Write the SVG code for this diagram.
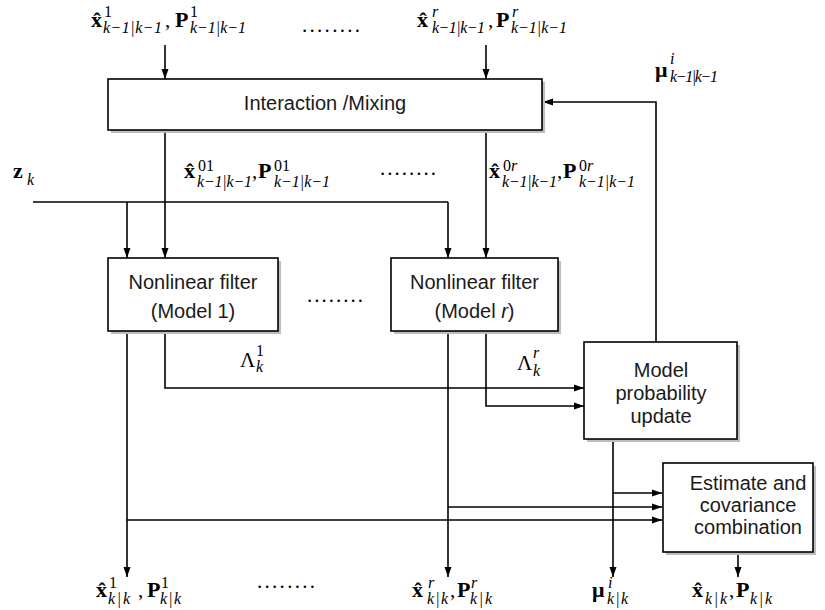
<svg xmlns="http://www.w3.org/2000/svg" width="825" height="610" viewBox="0 0 825 610">
<defs>
<marker id="ah" markerUnits="userSpaceOnUse" markerWidth="10" markerHeight="8" refX="10" refY="4" orient="auto"><path d="M0,0.5 L10,4 L0,7.5 z" fill="#000"/></marker>
<style>
.box{fill:#fff;stroke:#000;stroke-width:1.6}
.sh{fill:#bdbdbd}
.lbl{font-family:"Liberation Sans",Arial,sans-serif;font-size:20px;fill:#1a1a1a;text-anchor:middle}
.m{font-family:"Liberation Serif","Times New Roman",serif;fill:#000}
.b{font-weight:bold;font-size:22px}
.r{font-size:21px}
.s{font-size:16px}
.i{font-style:italic;font-size:16px}
.c{fill:none;stroke:#000;stroke-width:1.6}
.a{marker-end:url(#ah)}
</style>
</defs>
<rect width="825" height="610" fill="#fff"/>

<g id="connectors">
<path class="c a" d="M165,45 V79"/>
<path class="c a" d="M486,45 V79"/>
<path class="c a" d="M656,342 V102 H543"/>
<path class="c a" d="M165,130 V258"/>
<path class="c a" d="M486,130 V258"/>
<path class="c" d="M33,202 H448"/>
<path class="c a" d="M127,202 V258"/>
<path class="c a" d="M448,202 V258"/>
<path class="c a" d="M127,331 V577"/>
<path class="c a" d="M127,520 H662"/>
<path class="c a" d="M165,331 V388 H584"/>
<path class="c a" d="M448,331 V577"/>
<path class="c a" d="M448,507 H662"/>
<path class="c a" d="M486,331 V406 H584"/>
<path class="c a" d="M613,442 V577"/>
<path class="c a" d="M613,493 H662"/>
<path class="c a" d="M738,552 V577"/>
</g>

<g id="mixing">
<rect class="sh" x="111" y="82" width="434" height="51"/>
<rect class="box" x="108" y="79" width="434" height="51"/>
<text class="lbl" x="325" y="110">Interaction /Mixing</text>
</g>

<g id="filter1">
<rect class="sh" x="111" y="261" width="170" height="73"/>
<rect class="box" x="108" y="258" width="170" height="73"/>
<text class="lbl" x="193" y="289">Nonlinear filter</text>
<text class="lbl" x="193" y="318">(Model 1)</text>
</g>

<g id="filterr">
<rect class="sh" x="394" y="261" width="167" height="73"/>
<rect class="box" x="391" y="258" width="167" height="73"/>
<text class="lbl" x="474.5" y="289">Nonlinear filter</text>
<text class="lbl" x="474.5" y="318">(Model <tspan font-style="italic">r</tspan>)</text>
</g>

<g id="modelprob">
<rect class="sh" x="587" y="345" width="153" height="97"/>
<rect class="box" x="584" y="342" width="153" height="97"/>
<text class="lbl" x="661" y="377">Model</text>
<text class="lbl" x="661" y="400">probability</text>
<text class="lbl" x="661" y="423">update</text>
</g>

<g id="estimate">
<rect class="sh" x="666" y="466" width="150" height="89"/>
<rect class="box" x="663" y="463" width="150" height="89"/>
<text class="lbl" x="748" y="490">Estimate and</text>
<text class="lbl" x="748" y="512">covariance</text>
<text class="lbl" x="748" y="534">combination</text>
</g>

<g id="labels">
<!-- top left -->
<text class="m"><tspan class="b" x="91" y="27">x̂</tspan><tspan class="s" x="104" y="17">1</tspan><tspan class="i" x="103" y="33" textLength="59">k−1|k−1</tspan><tspan class="r" x="165" y="27">,</tspan><tspan class="b" x="175" y="27">P</tspan><tspan class="s" x="190" y="17">1</tspan><tspan class="i" x="190" y="33" textLength="56">k−1|k−1</tspan></text>
<text class="m r" x="302" y="32" textLength="58">........</text>
<!-- top right -->
<text class="m"><tspan class="b" x="417" y="27">x̂</tspan><tspan class="i" x="432" y="17">r</tspan><tspan class="i" x="432" y="33" textLength="53">k−1|k−1</tspan><tspan class="r" x="488" y="27">,</tspan><tspan class="b" x="496" y="27">P</tspan><tspan class="i" x="512" y="17">r</tspan><tspan class="i" x="511" y="33" textLength="56">k−1|k−1</tspan></text>
<!-- mu top -->
<text class="m"><tspan class="b" x="655" y="77">μ</tspan><tspan class="i" x="670" y="64">i</tspan><tspan class="i" x="670" y="82" textLength="48">k−1|k−1</tspan></text>
<!-- z_k -->
<text class="m"><tspan class="b" x="13" y="178">z</tspan><tspan class="i" x="27" y="185">k</tspan></text>
<!-- middle left -->
<text class="m"><tspan class="b" x="184" y="178">x̂</tspan><tspan class="s" x="198" y="171">01</tspan><tspan class="i" x="197" y="187" textLength="55">k−1|k−1</tspan><tspan class="r" x="252" y="178">,</tspan><tspan class="b" x="258" y="178">P</tspan><tspan class="s" x="274" y="171">01</tspan><tspan class="i" x="274" y="187" textLength="56">k−1|k−1</tspan></text>
<text class="m r" x="380" y="175" textLength="56">........</text>
<!-- middle right -->
<text class="m"><tspan class="b" x="489" y="178">x̂</tspan><tspan class="s" x="503" y="171">0<tspan font-style="italic">r</tspan></tspan><tspan class="i" x="502" y="187" textLength="55">k−1|k−1</tspan><tspan class="r" x="557" y="178">,</tspan><tspan class="b" x="563" y="178">P</tspan><tspan class="s" x="579" y="171">0<tspan font-style="italic">r</tspan></tspan><tspan class="i" x="579" y="187" textLength="56">k−1|k−1</tspan></text>
<!-- filter dots -->
<text class="m r" x="307" y="302" textLength="56">........</text>
<!-- lambdas -->
<text class="m"><tspan class="r" x="240" y="367">Λ</tspan><tspan class="s" x="256" y="356">1</tspan><tspan class="i" x="256" y="372">k</tspan></text>
<text class="m"><tspan class="r" x="517" y="370">Λ</tspan><tspan class="i" x="533" y="358">r</tspan><tspan class="i" x="533" y="376">k</tspan></text>
<!-- bottom -->
<text class="m"><tspan class="b" x="96" y="597">x̂</tspan><tspan class="s" x="109" y="588">1</tspan><tspan class="i" x="108" y="604" textLength="22">k|k</tspan><tspan class="r" x="138" y="597">,</tspan><tspan class="b" x="147" y="597">P</tspan><tspan class="s" x="161" y="588">1</tspan><tspan class="i" x="160" y="604" textLength="21">k|k</tspan></text>
<text class="m r" x="257" y="588" textLength="58">........</text>
<text class="m"><tspan class="b" x="412" y="597">x̂</tspan><tspan class="i" x="428" y="588">r</tspan><tspan class="i" x="427" y="604" textLength="21">k|k</tspan><tspan class="r" x="450" y="597">,</tspan><tspan class="b" x="457" y="597">P</tspan><tspan class="i" x="471" y="588">r</tspan><tspan class="i" x="470" y="604" textLength="22">k|k</tspan></text>
<text class="m"><tspan class="b" x="592" y="597">μ</tspan><tspan class="i" x="608" y="588">i</tspan><tspan class="i" x="607" y="604" textLength="21">k|k</tspan></text>
<text class="m"><tspan class="b" x="692" y="597">x̂</tspan><tspan class="i" x="705" y="604" textLength="22">k|k</tspan><tspan class="r" x="729" y="597">,</tspan><tspan class="b" x="736" y="597">P</tspan><tspan class="i" x="750" y="604" textLength="22">k|k</tspan></text>
</g>
</svg>
